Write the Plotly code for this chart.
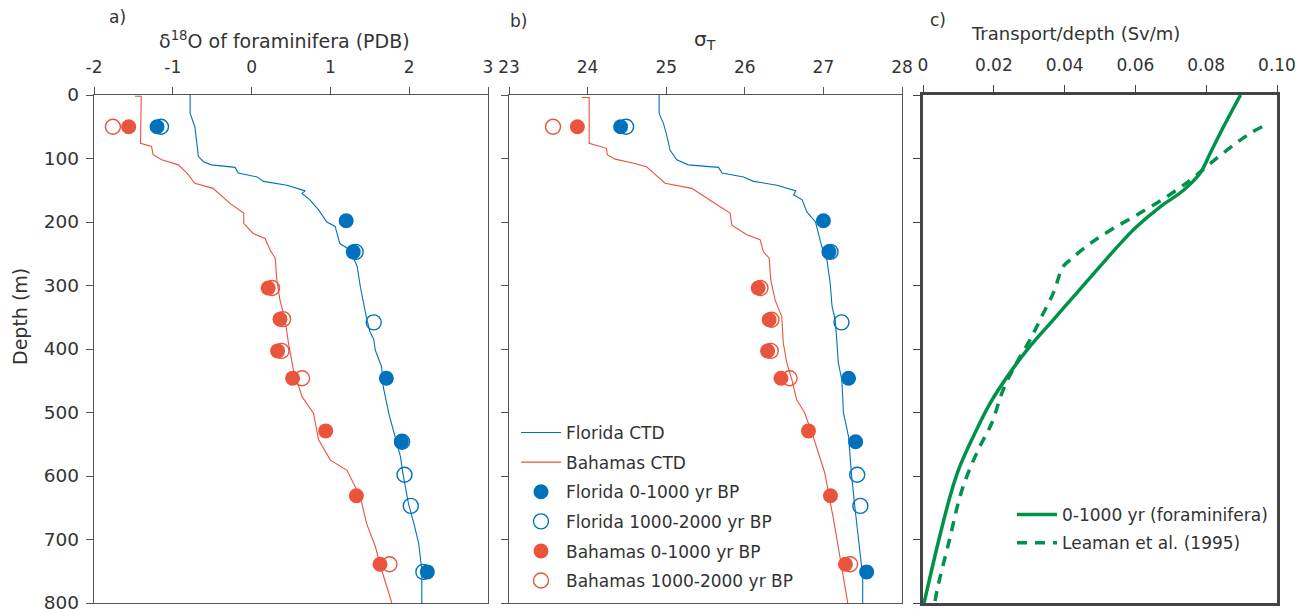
import plotly.graph_objects as go

# ---------------- data ----------------
depth_ticks = [0, 100, 200, 300, 400, 500, 600, 700, 800]
depth_ticklabels = ["0", "100", "200", "300", "400", "500", "600", "700", "800"]
d18o_ticks = [-2, -1, 0, 1, 2, 3]
d18o_ticklabels = ["-2", "-1", "0", "1", "2", "3"]
sigma_ticks = [23, 24, 25, 26, 27, 28]
sigma_ticklabels = ["23", "24", "25", "26", "27", "28"]
transport_ticks = [0, 0.02, 0.04, 0.06, 0.08, 0.10]
transport_ticklabels = ["0", "0.02", "0.04", "0.06", "0.08", "0.10"]

# Panel a: CTD-derived d18O profiles
fl_ctd_depth_a = [0, 29, 50, 76, 97, 105, 110, 114, 123, 129, 136, 142, 151, 155, 165, 181, 200, 207,
                  234, 244, 270, 302, 328, 352, 372, 385, 402, 428, 459, 501, 538, 570, 596, 643, 675,
                  706, 748, 800]
fl_ctd_d18o = [-0.78, -0.78, -0.72, -0.70, -0.675, -0.61, -0.51, -0.21, -0.17, 0.07, 0.15, 0.45, 0.68,
               0.64, 0.74, 0.85, 0.955, 1.06, 1.12, 1.25, 1.34, 1.38, 1.42, 1.46, 1.50, 1.55, 1.57, 1.65,
               1.67, 1.74, 1.82, 1.89, 1.92, 1.99, 2.06, 2.12, 2.16, 2.16]
ba_ctd_depth_a = [2, 2, 3, 76, 81, 94, 102, 110, 123, 139, 147, 171, 186, 202, 218, 226, 244, 257, 291,
                  323, 354, 390, 433, 475, 501, 543, 575, 591, 633, 675, 711, 748, 800]
ba_ctd_d18o = [-1.48, -1.40, -1.40, -1.41, -1.27, -1.25, -1.14, -0.93, -0.82, -0.72, -0.49, -0.27, -0.10,
               -0.10, 0.02, 0.17, 0.235, 0.30, 0.32, 0.36, 0.425, 0.467, 0.53, 0.64, 0.785, 0.85, 1.0,
               1.21, 1.38, 1.46, 1.57, 1.65, 1.78]

# Panel a: foraminifera d18O
fl_new_depth_a = [50, 198, 247, 446, 546, 751]
fl_new_d18o = [-1.20, 1.20, 1.29, 1.71, 1.90, 2.23]
fl_old_depth_a = [50, 247, 358, 546, 598, 647, 751]
fl_old_d18o = [-1.15, 1.32, 1.55, 1.91, 1.94, 2.02, 2.18]
ba_new_depth_a = [50, 304, 353, 403, 446, 529, 631, 739]
ba_new_d18o = [-1.56, 0.21, 0.36, 0.33, 0.52, 0.94, 1.33, 1.63]
ba_old_depth_a = [50, 304, 353, 403, 446, 739]
ba_old_d18o = [-1.76, 0.26, 0.40, 0.38, 0.64, 1.75]

# Panel b: sigma-T CTD profiles
fl_ctd_depth_b = [0, 29, 45, 60, 87, 102, 110, 114, 123, 129, 136, 142, 151, 157, 165, 184, 200, 218,
                  239, 260, 297, 333, 354, 386, 422, 449, 500, 538, 601, 654, 706, 758, 800]
fl_ctd_sigma = [24.91, 24.91, 24.965, 25.0, 25.05, 25.135, 25.28, 25.665, 25.71, 25.985, 26.11, 26.41,
                26.65, 26.62, 26.73, 26.79, 26.9, 26.94, 26.98, 27.045, 27.087, 27.11, 27.15, 27.17,
                27.19, 27.235, 27.255, 27.32, 27.36, 27.405, 27.45, 27.5, 27.5]
ba_ctd_depth_b = [4, 4, 76, 84, 94, 101, 108, 113, 123, 129, 139, 147, 165, 176, 186, 205, 220, 228, 247,
                  257, 291, 323, 349, 391, 422, 449, 480, 500, 538, 575, 596, 627, 669, 727, 800]
ba_ctd_sigma = [23.925, 24.02, 24.02, 24.24, 24.25, 24.35, 24.60, 24.75, 24.84, 24.90, 24.986, 25.326,
                25.56, 25.686, 25.813, 25.835, 26.026, 26.195, 26.237, 26.31, 26.33, 26.386, 26.47, 26.49,
                26.535, 26.6, 26.66, 26.76, 26.87, 26.96, 27.02, 27.065, 27.13, 27.21, 27.31]

# Panel b: foraminifera sigma-T
fl_new_depth_b = [50, 198, 247, 446, 546, 751]
fl_new_sigma = [24.42, 27.0, 27.07, 27.32, 27.41, 27.55]
fl_old_depth_b = [50, 247, 358, 598, 647]
fl_old_sigma = [24.49, 27.09, 27.23, 27.43, 27.47]
ba_new_depth_b = [50, 304, 354, 403, 446, 529, 631, 739]
ba_new_sigma = [23.87, 26.17, 26.31, 26.29, 26.46, 26.81, 27.09, 27.28]
ba_old_depth_b = [50, 304, 354, 403, 446, 739]
ba_old_sigma = [23.56, 26.20, 26.34, 26.33, 26.57, 27.34]

# Panel c: transport per depth
foram_depth = [0, 50, 92, 123, 150, 176, 207, 234, 270, 312, 354, 396, 438, 486, 538, 585, 625, 700, 800]
foram_transport = [0.0897, 0.0849, 0.0811, 0.0783, 0.0736, 0.067, 0.0604, 0.0557, 0.05, 0.0434, 0.0368,
                   0.0302, 0.0245, 0.0189, 0.0142, 0.0104, 0.008, 0.0045, 0.0003]
leaman_depth = [50, 60, 79, 108, 134, 160, 186, 210, 234, 260, 270, 281, 312, 349, 386, 422, 465, 517,
                554, 596, 633, 700, 774, 800]
leaman_transport = [0.0958, 0.0925, 0.0877, 0.0811, 0.0755, 0.0689, 0.0613, 0.0538, 0.0472, 0.0415,
                    0.0396, 0.0387, 0.0368, 0.0335, 0.0302, 0.0264, 0.0226, 0.0194, 0.016, 0.0127,
                    0.0104, 0.0075, 0.0042, 0.0033]

# ---------------- style ----------------
BLUE = "#0072BD"
RED = "#E9543C"
GREEN = "#00924A"
TXT = "#333333"
AX = "#555555"
FONT = "DejaVu Sans"
FS = 17
W, H = 1305, 609


def px(x):
    return x / W


def py(y):
    return 1 - y / H


fig = go.Figure()

# panel a
fig.add_trace(go.Scatter(x=fl_ctd_d18o, y=fl_ctd_depth_a, mode="lines", line=dict(color=BLUE, width=1.1),
                         xaxis="x", yaxis="y", showlegend=False))
fig.add_trace(go.Scatter(x=ba_ctd_d18o, y=ba_ctd_depth_a, mode="lines", line=dict(color=RED, width=1.1),
                         xaxis="x", yaxis="y", showlegend=False))
fig.add_trace(go.Scatter(x=fl_old_d18o, y=fl_old_depth_a, mode="markers",
                         marker=dict(symbol="circle-open", size=15, color=BLUE, line=dict(width=1.4)),
                         xaxis="x", yaxis="y", showlegend=False))
fig.add_trace(go.Scatter(x=ba_old_d18o, y=ba_old_depth_a, mode="markers",
                         marker=dict(symbol="circle-open", size=15, color=RED, line=dict(width=1.4)),
                         xaxis="x", yaxis="y", showlegend=False))
fig.add_trace(go.Scatter(x=fl_new_d18o, y=fl_new_depth_a, mode="markers",
                         marker=dict(symbol="circle", size=15, color=BLUE),
                         xaxis="x", yaxis="y", showlegend=False))
fig.add_trace(go.Scatter(x=ba_new_d18o, y=ba_new_depth_a, mode="markers",
                         marker=dict(symbol="circle", size=15, color=RED),
                         xaxis="x", yaxis="y", showlegend=False))

# panel b (with legend)
fig.add_trace(go.Scatter(x=fl_ctd_sigma, y=fl_ctd_depth_b, mode="lines", line=dict(color=BLUE, width=1.1),
                         xaxis="x2", yaxis="y2", name="Florida CTD", legend="legend",
                         legendgroup="g1", legendrank=1))
fig.add_trace(go.Scatter(x=ba_ctd_sigma, y=ba_ctd_depth_b, mode="lines", line=dict(color=RED, width=1.1),
                         xaxis="x2", yaxis="y2", name="Bahamas CTD", legend="legend",
                         legendgroup="g2", legendrank=2))
fig.add_trace(go.Scatter(x=fl_old_sigma, y=fl_old_depth_b, mode="markers",
                         marker=dict(symbol="circle-open", size=15, color=BLUE, line=dict(width=1.4)),
                         xaxis="x2", yaxis="y2", name="Florida 1000-2000 yr BP", legend="legend",
                         legendgroup="g4", legendrank=4))
fig.add_trace(go.Scatter(x=ba_old_sigma, y=ba_old_depth_b, mode="markers",
                         marker=dict(symbol="circle-open", size=15, color=RED, line=dict(width=1.4)),
                         xaxis="x2", yaxis="y2", name="Bahamas 1000-2000 yr BP", legend="legend",
                         legendgroup="g6", legendrank=6))
fig.add_trace(go.Scatter(x=fl_new_sigma, y=fl_new_depth_b, mode="markers",
                         marker=dict(symbol="circle", size=15, color=BLUE),
                         xaxis="x2", yaxis="y2", name="Florida 0-1000 yr BP", legend="legend",
                         legendgroup="g3", legendrank=3))
fig.add_trace(go.Scatter(x=ba_new_sigma, y=ba_new_depth_b, mode="markers",
                         marker=dict(symbol="circle", size=15, color=RED),
                         xaxis="x2", yaxis="y2", name="Bahamas 0-1000 yr BP", legend="legend",
                         legendgroup="g5", legendrank=5))

# panel c
fig.add_trace(go.Scatter(x=foram_transport, y=foram_depth, mode="lines",
                         line=dict(color=GREEN, width=3.5, shape="spline"),
                         xaxis="x3", yaxis="y3", name="0-1000 yr (foraminifera)", legend="legend2",
                         legendgroup="c1"))
fig.add_trace(go.Scatter(x=leaman_transport, y=leaman_depth, mode="lines",
                         line=dict(color=GREEN, width=3.5, dash="10px,8px", shape="spline"),
                         xaxis="x3", yaxis="y3", name="Leaman et al. (1995)", legend="legend2",
                         legendgroup="c2"))

ydom = [py(603), py(95)]
common_x = dict(side="top", showline=True, linecolor=AX, linewidth=1.3, mirror=True,
                ticks="outside", ticklen=7, tickcolor=AX, tickwidth=1.2, showgrid=False,
                zeroline=False, tickfont=dict(family=FONT, size=FS, color=TXT), tickmode="array",
                automargin=False, ticklabelstandoff=7, ticklabeloverflow="allow")
common_y = dict(range=[800, 0], domain=ydom, showline=True, linecolor=AX, linewidth=1.3, mirror=True,
                ticks="outside", ticklen=7, tickcolor=AX, tickwidth=1.2, showgrid=False,
                zeroline=False, tickfont=dict(family=FONT, size=18.5, color=TXT), tickmode="array",
                tickvals=depth_ticks, ticktext=depth_ticklabels, automargin=False,
                ticklabeloverflow="allow")

fig.update_layout(
    width=W, height=H,
    margin=dict(l=0, r=0, t=0, b=0, autoexpand=False),
    paper_bgcolor="white", plot_bgcolor="white",
    font=dict(family=FONT, size=FS, color=TXT),
    xaxis=dict(common_x, domain=[px(94), px(488)], range=[-2, 3], anchor="y",
               tickvals=d18o_ticks, ticktext=d18o_ticklabels),
    xaxis2=dict(common_x, domain=[px(509), px(902)], range=[23, 28], anchor="y2",
                tickvals=sigma_ticks, ticktext=sigma_ticklabels),
    xaxis3=dict(common_x, domain=[px(923), px(1277)], range=[0, 0.1], anchor="y3",
                tickvals=transport_ticks, ticktext=transport_ticklabels,
                linewidth=2.5, linecolor="#444444", tickcolor="#444444"),
    yaxis=dict(common_y, anchor="x", ticklabelstandoff=3),
    yaxis2=dict(common_y, anchor="x2", showticklabels=False),
    yaxis3=dict(common_y, anchor="x3", showticklabels=False, linewidth=2.5, linecolor="#444444",
                tickcolor="#444444"),
    legend=dict(x=px(516), y=py(415), xanchor="left", yanchor="top", bgcolor="rgba(0,0,0,0)",
                font=dict(family=FONT, size=FS, color=TXT), traceorder="grouped", tracegroupgap=4.5,
                itemwidth=40),
    legend2=dict(x=px(1012), y=py(497), xanchor="left", yanchor="top", bgcolor="rgba(0,0,0,0)",
                 font=dict(family=FONT, size=FS, color=TXT), traceorder="grouped", tracegroupgap=3,
                 itemwidth=40),
)

annots = [
    dict(text="a)", x=px(117), y=py(17)),
    dict(text="b)", x=px(518), y=py(21)),
    dict(text="c)", x=px(938), y=py(20)),
    dict(text="δ<sup>18</sup>O of foraminifera (PDB)", x=px(284), y=py(40), size=19),
    dict(text="σ<sub>T</sub>", x=px(705), y=py(40), size=20),
    dict(text="Transport/depth (Sv/m)", x=px(1075), y=py(33), size=18),
]
for a in annots:
    fig.add_annotation(text=a["text"], x=a["x"], y=a["y"], xref="paper", yref="paper",
                       xanchor="center", yanchor="middle", showarrow=False,
                       font=dict(family=FONT, size=a.get("size", FS), color=TXT))
fig.add_annotation(text="Depth (m)", x=px(20), y=py(317), xref="paper", yref="paper", textangle=-90,
                   xanchor="center", yanchor="middle", showarrow=False,
                   font=dict(family=FONT, size=19, color=TXT))

fig.write_html("out.html")
